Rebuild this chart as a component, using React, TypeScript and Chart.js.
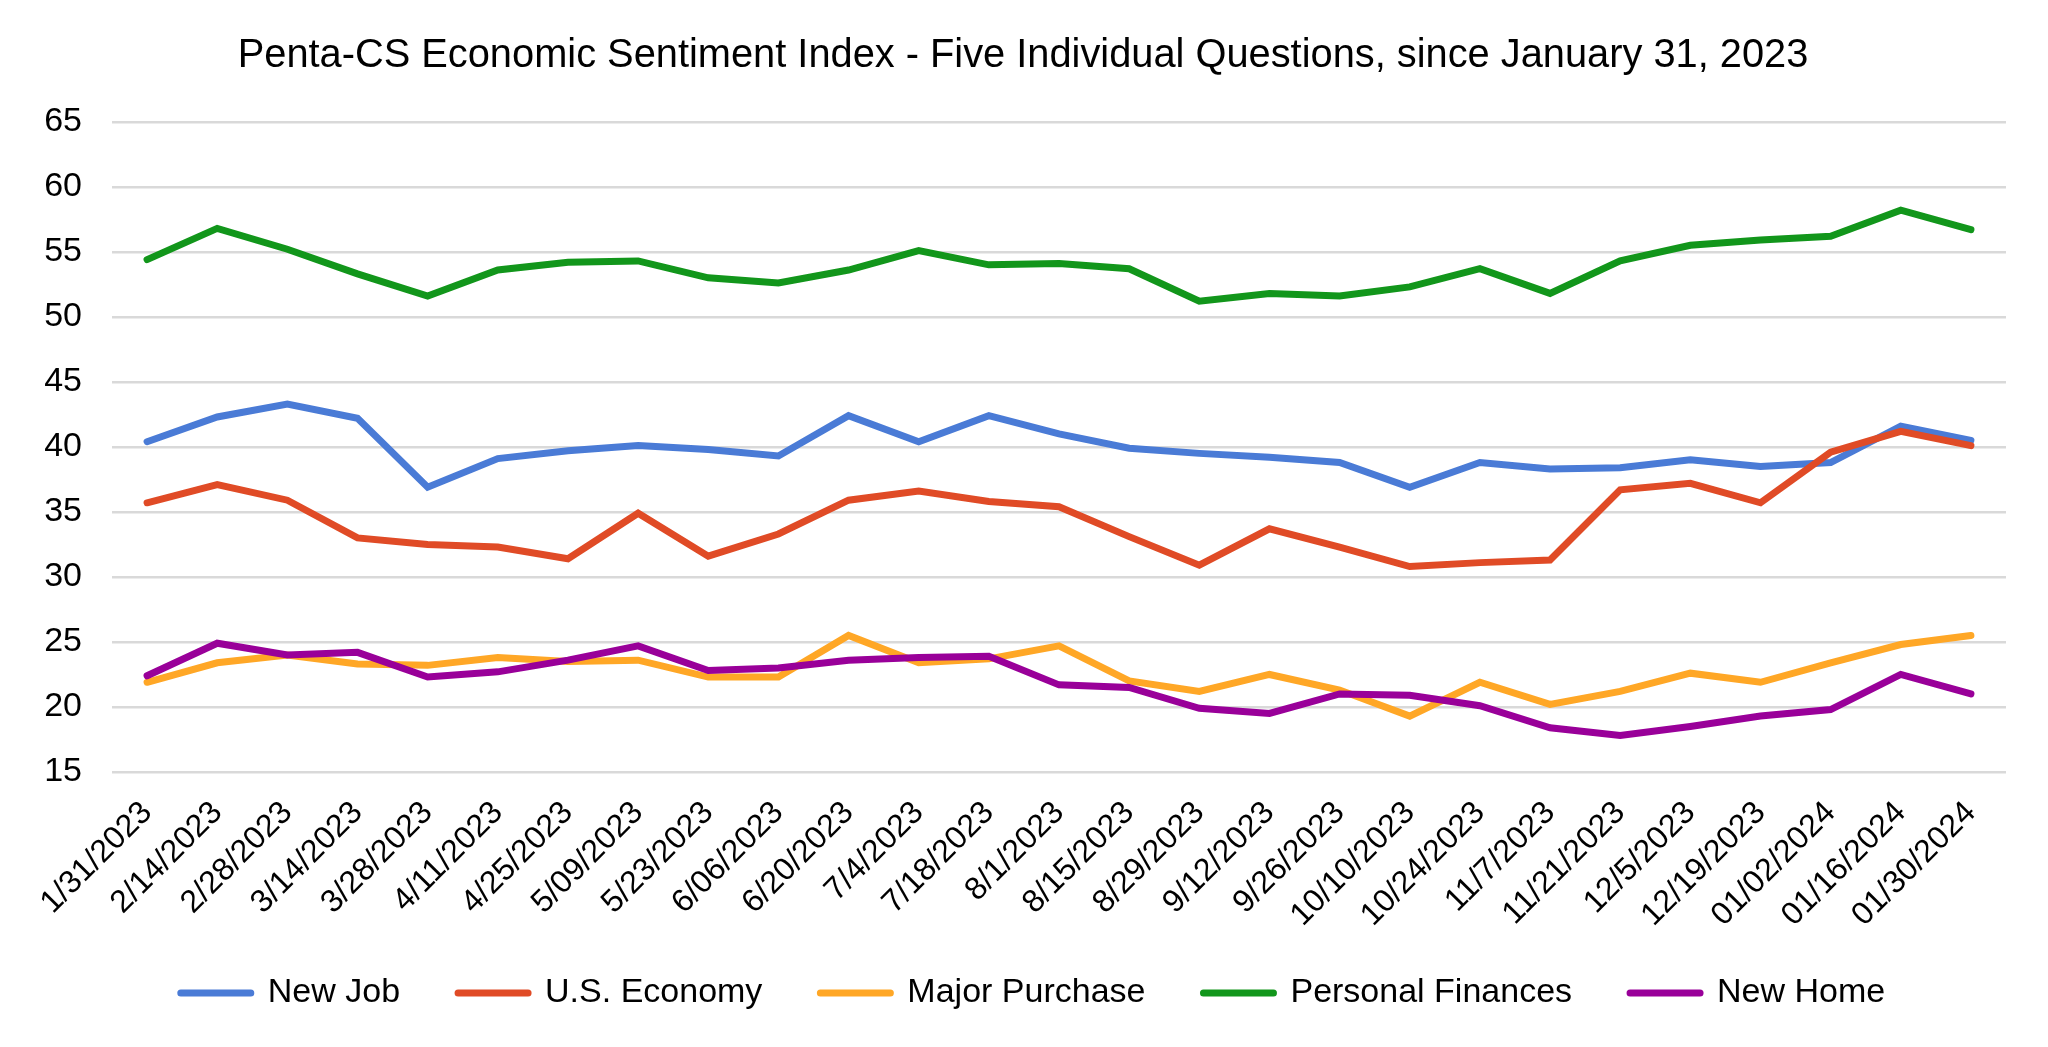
import React, { useEffect, useRef } from "react";
import { Chart, registerables } from "chart.js";

Chart.register(...registerables);

const categories = [
  "1/31/2023", "2/14/2023", "2/28/2023", "3/14/2023", "3/28/2023", "4/11/2023",
  "4/25/2023", "5/09/2023", "5/23/2023", "6/06/2023", "6/20/2023", "7/4/2023",
  "7/18/2023", "8/1/2023", "8/15/2023", "8/29/2023", "9/12/2023", "9/26/2023",
  "10/10/2023", "10/24/2023", "11/7/2023", "11/21/2023", "12/5/2023", "12/19/2023",
  "01/02/2024", "01/16/2024", "01/30/2024",
];

const newJob = [40.4, 42.3, 43.3, 42.2, 36.9, 39.1, 39.7, 40.1, 39.8, 39.3, 42.4, 40.4, 42.4, 41.0, 39.9, 39.5, 39.2, 38.8, 36.9, 38.8, 38.3, 38.4, 39.0, 38.5, 38.8, 41.6, 40.5];
const usEconomy = [35.7, 37.1, 35.9, 33.0, 32.5, 32.3, 31.4, 34.9, 31.6, 33.3, 35.9, 36.6, 35.8, 35.4, 33.1, 30.9, 33.7, 32.3, 30.8, 31.1, 31.3, 36.7, 37.2, 35.7, 39.6, 41.2, 40.1];
const majorPurchase = [21.9, 23.4, 24.0, 23.3, 23.2, 23.8, 23.5, 23.6, 22.3, 22.3, 25.5, 23.4, 23.7, 24.7, 22.0, 21.2, 22.5, 21.3, 19.3, 21.9, 20.2, 21.2, 22.6, 21.9, 23.4, 24.8, 25.5];
const personalFinances = [54.4, 56.8, 55.2, 53.3, 51.6, 53.6, 54.2, 54.3, 53.0, 52.6, 53.6, 55.1, 54.0, 54.1, 53.7, 51.2, 51.8, 51.6, 52.3, 53.7, 51.8, 54.3, 55.5, 55.9, 56.2, 58.2, 56.7];
const newHome = [22.4, 24.9, 24.0, 24.2, 22.3, 22.7, 23.6, 24.7, 22.8, 23.0, 23.6, 23.8, 23.9, 21.7, 21.5, 19.9, 19.5, 21.0, 20.9, 20.1, 18.4, 17.8, 18.5, 19.3, 19.8, 22.5, 21.0];

const seriesNames = ["New Job", "U.S. Economy", "Major Purchase", "Personal Finances", "New Home"];
const seriesColors = ["#4A7BD6", "#E04B26", "#FFA726", "#12961B", "#990099"];
const seriesValues = [newJob, usEconomy, majorPurchase, personalFinances, newHome];

const titleText = "Penta-CS Economic Sentiment Index - Five Individual Questions, since January 31, 2023";
const FONT = "'Liberation Sans', Arial, Helvetica, sans-serif";

// moves the bottom legend up into the space under the rotated tick labels
const legendShift = {
  id: "legendShift",
  afterLayout(chart: any) {
    const l = chart.legend;
    if (l) {
      l.top -= 24;
      l.bottom -= 24;
      l.left += 10;
      l.right += 10;
    }
  },
};

export default function App() {
  const ref = useRef<HTMLCanvasElement | null>(null);

  useEffect(() => {
    document.body.style.margin = "0";
    document.body.style.overflow = "hidden";
    if (!ref.current) return;
    const chart = new Chart(ref.current, {
      type: "line",
      data: {
        labels: categories,
        datasets: seriesValues.map((vals, i) => ({
          label: seriesNames[i],
          data: vals,
          borderColor: seriesColors[i],
          backgroundColor: seriesColors[i],
          borderWidth: 7,
          borderCapStyle: "round" as const,
          borderJoinStyle: "miter" as const,
          pointRadius: 0,
          tension: 0,
          fill: false,
          order: seriesValues.length - i,
        })),
      },
      plugins: [legendShift],
      options: {
        responsive: false,
        animation: false,
        layout: { padding: { left: 40, right: 42, top: 0, bottom: 3 } },
        plugins: {
          tooltip: { enabled: false },
          title: {
            display: true,
            text: titleText,
            color: "#000",
            font: { family: FONT, size: 39.8, weight: "normal" },
            padding: { top: 32, bottom: 42 },
          },
          legend: {
            position: "bottom",
            labels: {
              color: "#000",
              font: { family: FONT, size: 34 },
              usePointStyle: true,
              pointStyle: "line",
              pointStyleWidth: 70,
              padding: 58,
              sort: (a: any, b: any) => a.datasetIndex - b.datasetIndex,
              generateLabels: (c: any) =>
                Chart.defaults.plugins.legend.labels
                  .generateLabels(c)
                  .map((it: any) => ({ ...it, lineWidth: 7, lineCap: "round" })),
            },
          },
        },
        scales: {
          x: {
            offset: true,
            grid: { display: false, drawTicks: false, offset: true },
            border: { display: false },
            ticks: {
              color: "#000",
              font: { family: FONT, size: 32 },
              minRotation: 45,
              maxRotation: 45,
              autoSkip: false,
              padding: 22,
            },
            afterFit: (s: any) => {
              s.height = 170;
            },
          },
          y: {
            min: 15,
            max: 65,
            grid: { color: "#D9D9D9", lineWidth: 2.5, drawTicks: false },
            border: { display: false },
            ticks: {
              stepSize: 5,
              color: "#000",
              font: { family: FONT, size: 34 },
              padding: 30,
            },
            afterFit: (s: any) => {
              s.width = 72;
            },
          },
        },
      },
    } as any);
    return () => chart.destroy();
  }, []);

  return (
    <div style={{ width: 2048, height: 1047 }}>
      <canvas ref={ref} width={2048} height={1047} style={{ display: "block" }} />
    </div>
  );
}
